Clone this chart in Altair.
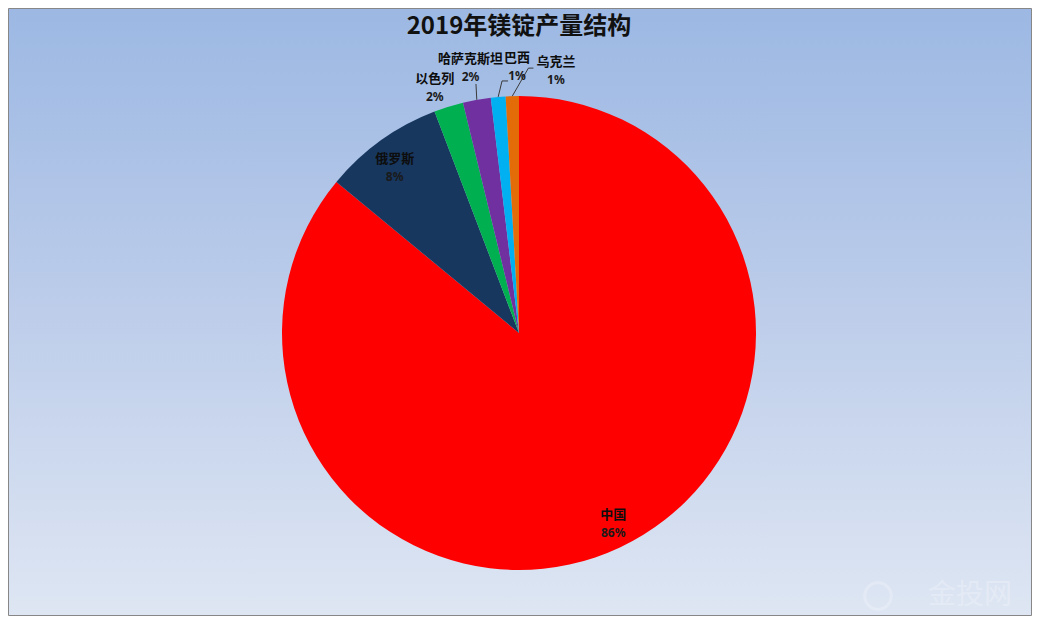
import altair as alt
import numpy as np
import pandas as pd

# ---------------- data ----------------
countries = ["中国", "俄罗斯", "以色列", "哈萨克斯坦", "巴西", "乌克兰"]
shares = [86.0, 8.2, 2.0, 1.9, 1.0, 0.9]
colors = ["#FF0000", "#17375E", "#00B050", "#7030A0", "#00B0F0", "#E36C09"]
title_text = "2019年镁锭产量结构"
watermark = "金投网"

# ---------------- layout ----------------
W, H = 1024, 608
CX, CY, R = 511, 325, 237
label_r = [212, 210, 250, 250, 250, 250]
label_dx = [4, -2, -10, -4, 20, 44]
label_dy = [-1, 6, -6, -19, -17, -12]
# leader line points relative to label centre
leader_pts = {
    "哈萨克斯坦": [(5.5, 16)],
    "巴西": [(-15, 14), (-9, 14)],
    "乌克兰": [(-27.5, -3), (-22.5, -3)],
}

df = pd.DataFrame({"country": countries, "share": shares, "idx": range(len(countries))})

vals = np.array(shares)
total = vals.sum()
mid = (np.cumsum(vals) - vals / 2) / total * 2 * np.pi
pct = [f"{int(round(v / total * 100))}%" for v in vals]
lx = CX + np.array(label_r) * np.sin(mid) + np.array(label_dx)
ly = CY - np.array(label_r) * np.cos(mid) + np.array(label_dy)
lab = pd.DataFrame({
    "country": countries, "pct": pct,
    "nx": lx, "ny": ly - 9, "px": lx, "py": ly + 9,
})

rows = []
for i, c in enumerate(countries):
    if c in leader_pts:
        rows.append({"country": c, "k": 0,
                     "x": CX + R * np.sin(mid[i]), "y": CY - R * np.cos(mid[i])})
        for k, (ddx, ddy) in enumerate(leader_pts[c], start=1):
            rows.append({"country": c, "k": k, "x": lx[i] + ddx, "y": ly[i] + ddy})
lead = pd.DataFrame(rows)

one = pd.DataFrame({"a": [0]})

grad = alt.Gradient(
    gradient="linear", x1=0, x2=0, y1=0, y2=1,
    stops=[alt.GradientStop(color="#9CB8E3", offset=0),
           alt.GradientStop(color="#BDCDEA", offset=0.5),
           alt.GradientStop(color="#DEE6F3", offset=1)],
)

bg = alt.Chart(one).mark_rect(fill=grad, stroke="#878787", strokeWidth=1).encode(
    x=alt.value(0.5), x2=alt.value(W - 0.5), y=alt.value(0.5), y2=alt.value(H - 0.5)
)

pie = alt.Chart(df).mark_arc(radius=R).encode(
    theta=alt.Theta("share:Q", stack=True),
    color=alt.Color("country:N", scale=alt.Scale(domain=countries, range=colors), legend=None),
    order=alt.Order("idx:Q"),
    x=alt.value(CX), y=alt.value(CY),
)

leaders = alt.Chart(lead).mark_line(color="#3A3A3A", strokeWidth=1).encode(
    x=alt.X("x:Q", scale=None, axis=None),
    y=alt.Y("y:Q", scale=None, axis=None),
    detail="country:N",
    order="k:Q",
)

names = alt.Chart(lab).mark_text(
    font="Noto Sans CJK SC", fontSize=13, fontWeight="bold", color="#0D0D0D", baseline="middle"
).encode(
    x=alt.X("nx:Q", scale=None, axis=None),
    y=alt.Y("ny:Q", scale=None, axis=None),
    text="country:N",
)

pcts = alt.Chart(lab).mark_text(
    font="Noto Sans", fontSize=12, fontWeight="bold", color="#1A1A1A", baseline="middle"
).encode(
    x=alt.X("px:Q", scale=None, axis=None),
    y=alt.Y("py:Q", scale=None, axis=None),
    text="pct:N",
)

title = alt.Chart(one).mark_text(
    text=title_text, font="Noto Sans CJK SC", fontSize=24, fontWeight="bold",
    color="#111111", baseline="middle",
).encode(x=alt.value(CX), y=alt.value(19))

wm_text = alt.Chart(one).mark_text(
    text=watermark, font="Noto Sans CJK SC", fontSize=28, color="#FFFFFF",
    opacity=0.25, baseline="middle",
).encode(x=alt.value(962), y=alt.value(588))

wm_logo = alt.Chart(one).mark_point(
    shape="circle", size=700, stroke="#FFFFFF", strokeWidth=3, opacity=0.25, filled=False,
).encode(x=alt.value(870), y=alt.value(588))

chart = alt.layer(bg, pie, leaders, names, pcts, title, wm_logo, wm_text).properties(
    width=W, height=H,
    autosize=alt.AutoSizeParams(type="fit", contains="padding"),
    padding=0,
).configure_view(stroke=None)

chart.save("out.html", embed_options={"renderer": "svg", "actions": False})
